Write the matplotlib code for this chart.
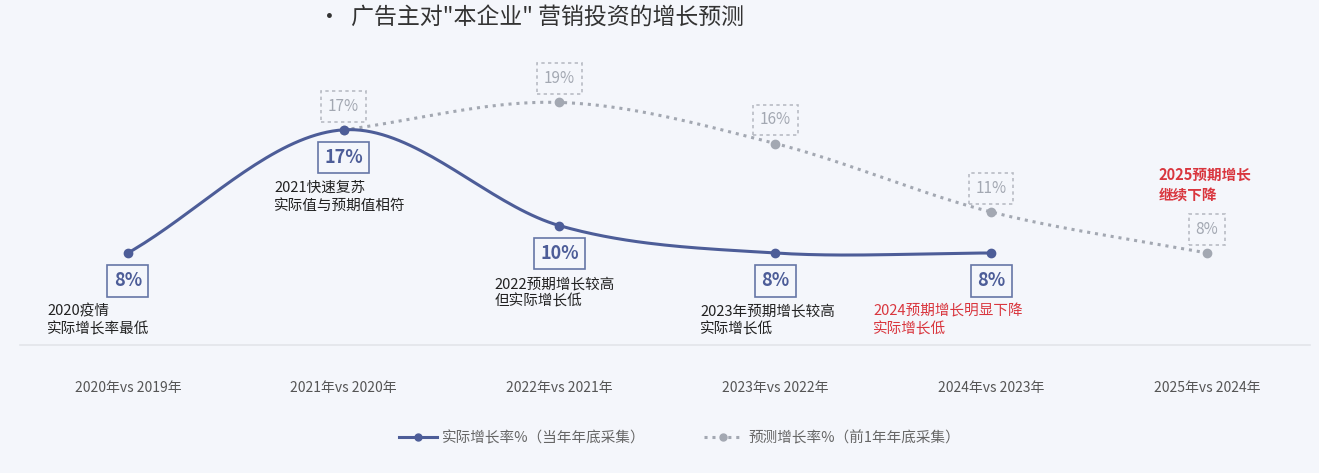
import numpy as np
import matplotlib.pyplot as plt

plt.rcParams['font.family'] = ['Noto Sans CJK SC', 'DejaVu Sans']

# data
categories = ['2020年vs 2019年', '2021年vs 2020年', '2022年vs 2021年',
              '2023年vs 2022年', '2024年vs 2023年', '2025年vs 2024年']
actual = [8, 17, 10, 8, 8]            # 2020..2024
forecast = [17, 19, 16, 11, 8]        # 2021..2025
actual_notes = ['2020疫情\n实际增长率最低', '2021快速复苏\n实际值与预期值相符',
                '2022预期增长较高\n但实际增长低', '2023年预期增长较高\n实际增长低',
                '2024预期增长明显下降\n实际增长低']
note_red = [False, False, False, False, True]
forecast_note = '2025预期增长\n继续下降'

# horizontal offset (points) of each note's left edge from its point
note_dx = [-58, -50, -47, -54, -85]

BLUE = '#4d5d98'
GRAY = '#a3a8b2'
RED = '#d9363e'
BG = '#f4f6fb'


def smooth(x, y, n=40):
    # Catmull-Rom spline through the points
    x = np.asarray(x, float)
    y = np.asarray(y, float)
    px = np.concatenate([[2 * x[0] - x[1]], x, [2 * x[-1] - x[-2]]])
    py = np.concatenate([[2 * y[0] - y[1]], y, [2 * y[-1] - y[-2]]])
    xs, ys = [], []
    t = np.linspace(0, 1, n)
    for i in range(1, len(px) - 2):
        for arr, out in ((px, xs), (py, ys)):
            p0, p1, p2, p3 = arr[i - 1], arr[i], arr[i + 1], arr[i + 2]
            out.extend(0.5 * (2 * p1 + (-p0 + p2) * t
                              + (2 * p0 - 5 * p1 + 4 * p2 - p3) * t ** 2
                              + (-p0 + 3 * p1 - 3 * p2 + p3) * t ** 3))
    return np.array(xs), np.array(ys)


fig = plt.figure(figsize=(13.19, 4.73), dpi=100, facecolor=BG)
ax = fig.add_axes([20 / 1319, 1 - 345 / 473, 1290 / 1319, 285 / 473])
ax.set_facecolor(BG)

xa = np.arange(len(actual))
xf = np.arange(1, 1 + len(forecast))

sx, sy = smooth(xf, forecast)
ax.plot(sx, sy, color=GRAY, lw=2.2, ls=(0, (1, 1.6)), zorder=2)
ax.plot(xf, forecast, 'o', color=GRAY, ms=6, zorder=3)

sx, sy = smooth(xa, actual)
ax.plot(sx, sy, color=BLUE, lw=2.2, zorder=4)
ax.plot(xa, actual, 'o', color=BLUE, ms=6, zorder=5)

for x, v in zip(xf, forecast):
    ax.annotate(f'{v}%', (x, v), xytext=(0, 17), textcoords='offset points',
                ha='center', va='center', fontsize=11, color=GRAY,
                bbox=dict(boxstyle='square,pad=0.45', fc=BG, ec='#b8bcc4',
                          lw=1.2, ls=(0, (2, 2))), zorder=6)

for x, v in zip(xa, actual):
    ax.annotate(f'{v}%', (x, v), xytext=(0, -20), textcoords='offset points',
                ha='center', va='center', fontsize=13, fontweight='bold',
                color=BLUE,
                bbox=dict(boxstyle='square,pad=0.35', fc=BG, ec='#6676a6',
                          lw=1.2), zorder=6)

for x, v, note, red, dx in zip(xa, actual, actual_notes, note_red, note_dx):
    ax.annotate(note, (x, v), xytext=(dx, -37),
                textcoords='offset points', ha='left', va='top',
                fontsize=10.5, linespacing=1.3,
                color=RED if red else '#222222', zorder=6)

ax.annotate(forecast_note, (xf[-1], forecast[-1]), xytext=(-35, 62),
            textcoords='offset points', ha='left', va='top', fontsize=10.5,
            linespacing=1.3, color=RED, fontweight='bold')

ax.set_xlim(-0.5, 5.478)
ax.set_ylim(1.28, 22.1)
ax.set_xticks(np.arange(len(categories)))
ax.set_xticklabels(categories, fontsize=10, color='#555555')
ax.tick_params(axis='x', length=0, pad=26)
ax.set_yticks([])
for s in ['top', 'right', 'left']:
    ax.spines[s].set_visible(False)
ax.spines['bottom'].set_color('#e2e5ea')
ax.spines['bottom'].set_linewidth(1.2)

h1 = plt.Line2D([], [], color=BLUE, lw=2.2, marker='o', ms=5)
h2 = plt.Line2D([], [], color=GRAY, lw=2.2, ls=(0, (1, 1.6)), marker='o', ms=5)
fig.legend([h1, h2], ['实际增长率%（当年年底采集）', '预测增长率%（前1年年底采集）'],
           loc='center', bbox_to_anchor=(0.515, 1 - 438 / 473), ncol=2,
           frameon=False, fontsize=10.5, labelcolor='#666666',
           handlelength=2.6, columnspacing=4.0, handletextpad=0.4)

fig.text(318 / 1319, 1 - 17 / 473, '•  广告主对"本企业" 营销投资的增长预测',
         fontsize=16.5, color='#333333', va='center', ha='left')

fig.savefig('out.png', dpi=100, facecolor=BG)
